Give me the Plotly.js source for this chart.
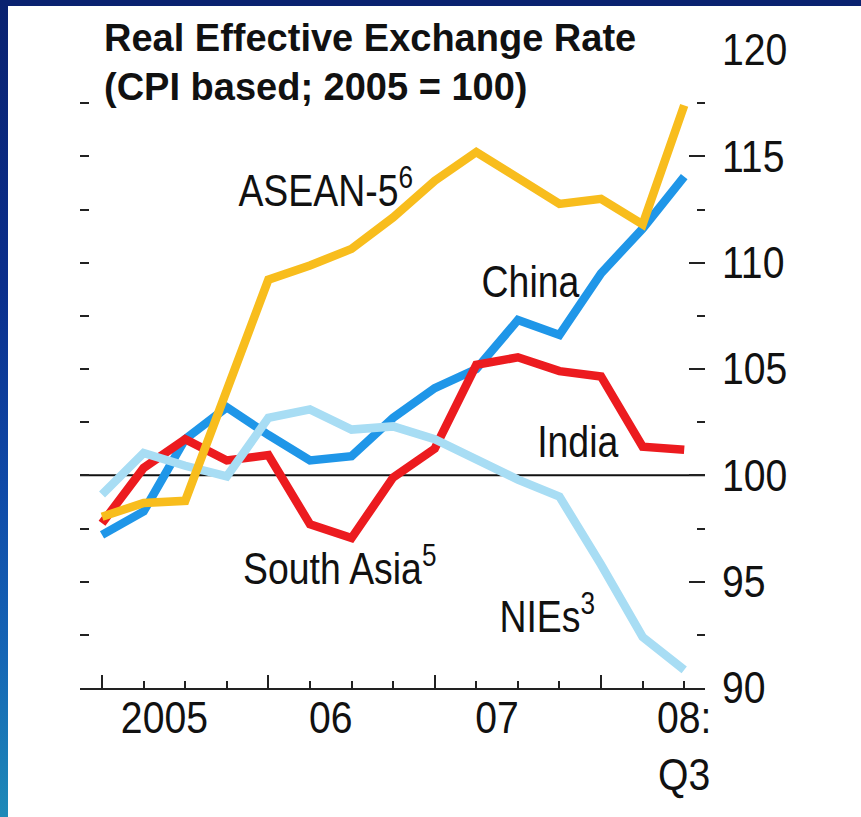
<!DOCTYPE html>
<html>
<head>
<meta charset="utf-8">
<script src="https://cdn.plot.ly/plotly-3.0.1.min.js"></script>
<style>
  html, body { margin: 0; padding: 0; background: #ffffff; overflow: hidden; }
  #wrap { position: relative; width: 861px; height: 817px; }
  #chart { position: absolute; left: 0; top: 0; width: 861px; height: 817px; }
  #topband { position: absolute; left: 0; top: 0; width: 861px; height: 6px; background: #0a2270; pointer-events: none; }
  #leftband { position: absolute; left: 0; top: 0; width: 8px; height: 817px; pointer-events: none;
    background: linear-gradient(to bottom, #0a2270 0%, #0b2f8c 35%, #0f4aa8 60%, #1565b5 80%, #1e8ab8 100%); }
</style>
</head>
<body>
<div id="wrap">
  <div id="chart"></div>
  <div id="topband"></div>
  <div id="leftband"></div>
</div>
<script>
// ---- Data ----
const quarters = ['2005Q1','2005Q2','2005Q3','2005Q4',
                  '2006Q1','2006Q2','2006Q3','2006Q4',
                  '2007Q1','2007Q2','2007Q3','2007Q4',
                  '2008Q1','2008Q2','2008Q3'];
const china = [97.2, 98.3, 101.7, 103.2, 101.9, 100.7, 100.9, 102.7, 104.1, 105.0, 107.3, 106.6, 109.5, 111.6, 114.05];
const india = [97.75, 100.35, 101.7, 100.7, 100.95, 97.7, 97.05, 99.9, 101.25, 105.2, 105.55, 104.9, 104.65, 101.35, 101.2];
const nies  = [99.1, 101.05, 100.45, 99.95, 102.7, 103.1, 102.15, 102.3, 101.7, 100.7, 99.8, 99.0, 95.8, 92.4, 90.85];
const asean = [98.05, 98.7, 98.8, 104.0, 109.2, 109.87, 110.65, 112.13, 113.85, 115.2, 114.0, 112.76, 113.0, 111.8, 117.4];
const yearNames = ['2005', '06', '07', '08:<br>Q3'];
const yTicks = [90, 95, 100, 105, 110, 115, 120];
const baseline = 100;
const seriesNames = ['China', 'India', 'NIEs', 'ASEAN-5'];
const labelTexts = ['ASEAN-5<sup>6</sup>', 'China', 'India', 'South Asia<sup>5</sup>', 'NIEs<sup>3</sup>'];

// ---- Derived ----
const xIndex = quarters.map((q, i) => i);
const majorIdx = xIndex.filter(i => quarters[i].endsWith('Q1'));
const years = [...new Set(quarters.map(q => q.slice(0, 4)))];
const yearPos = years.map((y, k) => {
  const idx = xIndex.filter(i => quarters[i].startsWith(y));
  if (k === years.length - 1) return idx[idx.length - 1];
  return idx.reduce((a, b) => a + b, 0) / idx.length;
});

const colors = {China: '#1f96e8', India: '#ec1b1f', NIEs: '#a8ddf4', 'ASEAN-5': '#f8bd1d'};
const values = {China: china, India: india, NIEs: nies, 'ASEAN-5': asean};

const traces = seriesNames.map(n => ({
  type: 'scatter', mode: 'lines', name: n,
  x: xIndex, y: values[n],
  line: {color: colors[n], width: 8.5},
  hoverinfo: 'skip'
}));
// empty helper traces so the overlaid label / left-tick axes are drawn
traces.push({type: 'scatter', mode: 'lines', x: [], y: [], xaxis: 'x2', yaxis: 'y', showlegend: false, hoverinfo: 'skip'});
traces.push({type: 'scatter', mode: 'lines', x: [], y: [], xaxis: 'x', yaxis: 'y2', showlegend: false, hoverinfo: 'skip'});

const fam = 'Liberation Sans, Arial, sans-serif';
const txtFont = {family: fam, size: 44, color: '#111'};

// label placement (data coordinates of label centre)
const labelPlace = [
  [5.38, 113.55], [10.30, 109.13], [11.45, 101.6], [5.72, 95.74], [10.72, 93.48]
];
const annotations = labelTexts.map((t, i) => ({
  text: t, x: labelPlace[i][0], y: labelPlace[i][1], xref: 'x', yref: 'y',
  xanchor: 'center', yanchor: 'middle', showarrow: false, font: txtFont
}));

const xRange = [-0.53, 14.5];
const yRange = [90, 120];

const layout = {
  width: 861, height: 817,
  margin: {l: 80, r: 156, t: 50, b: 129},
  paper_bgcolor: '#ffffff', plot_bgcolor: 'rgba(0,0,0,0)',
  showlegend: false,
  title: {
    text: 'Real Effective Exchange Rate<br>(CPI based; 2005 = 100)',
    font: {family: fam, size: 38, weight: 700, color: '#111'},
    x: 24 / 625, xref: 'paper', xanchor: 'left',
    y: 1 - 51 / 817, yref: 'container', yanchor: 'top'
  },
  xaxis: {
    range: xRange, tickmode: 'array', tickvals: majorIdx,
    ticks: 'inside', ticklen: 13, tickwidth: 2, tickcolor: '#222',
    minor: {tickmode: 'linear', tick0: 0, dtick: 1, ticks: 'inside', ticklen: 7, tickwidth: 2, tickcolor: '#222', showgrid: false},
    showticklabels: false, showline: true, linecolor: '#222', linewidth: 2,
    showgrid: false, zeroline: false
  },
  xaxis2: {
    overlaying: 'x', anchor: 'y', side: 'bottom',
    range: xRange, tickmode: 'array', tickvals: yearPos, ticktext: yearNames,
    ticks: '', showline: false, showgrid: false, zeroline: false,
    tickfont: txtFont, ticklabelstandoff: 0
  },
  yaxis: {
    side: 'right', range: yRange, tickmode: 'array', tickvals: yTicks,
    ticks: 'inside', ticklen: 16, tickwidth: 2, tickcolor: '#222',
    minor: {tickmode: 'linear', tick0: 90, dtick: 2.5, ticks: 'inside', ticklen: 8, tickwidth: 2, tickcolor: '#222', showgrid: false},
    showline: false, showgrid: false, zeroline: false,
    tickfont: txtFont, ticklabelstandoff: 16
  },
  yaxis2: {
    overlaying: 'y', anchor: 'x', side: 'left',
    range: yRange, tickmode: 'linear', tick0: 90, dtick: 2.5,
    ticks: 'inside', ticklen: 9, tickwidth: 2, tickcolor: '#222',
    showticklabels: false, showline: false, showgrid: false, zeroline: false
  },
  shapes: [{
    type: 'line', xref: 'paper', x0: 0, x1: 1, yref: 'y', y0: baseline, y1: baseline,
    line: {color: '#111', width: 2}, layer: 'below'
  }],
  annotations: annotations
};

// horizontally condense text glyphs (the reference uses a narrow typeface)
function condense(el, k) {
  const lines = el.querySelectorAll('tspan.line');
  const targets = lines.length ? Array.from(lines) : [el];
  targets.forEach(t => {
    const w = t.getComputedTextLength();
    if (w > 0) {
      t.setAttribute('textLength', (w * k).toFixed(2));
      t.setAttribute('lengthAdjust', 'spacingAndGlyphs');
    }
  });
}

Plotly.newPlot('chart', traces, layout, {staticPlot: true, displayModeBar: false}).then(gd => {
  gd.querySelectorAll('.annotation-text').forEach(el => condense(el, 0.85));
  gd.querySelectorAll('.ytick text, .x2tick text').forEach(el => condense(el, 0.89));
});
</script>
</body>
</html>
